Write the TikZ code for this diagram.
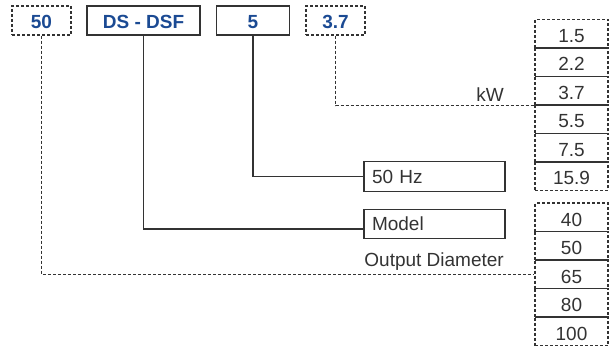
\documentclass[tikz,border=0pt]{standalone}
\usepackage{fontspec}
\setmainfont{Liberation Sans}
\definecolor{lab}{HTML}{1B4A93}
\definecolor{ln}{HTML}{333333}
\begin{document}
\begin{tikzpicture}[x=1pt,y=-1pt,
  font=\fontsize{19}{22}\selectfont,
  dsh/.style={dash pattern=on 3pt off 2pt},
  topbox/.style={draw=ln,line width=1.2pt,minimum height=29pt,inner sep=0pt,text=lab,text height=15.5pt,text depth=0pt,font=\fontsize{19}{22}\selectfont\bfseries},
  infobox/.style={draw=ln,line width=1.2pt,minimum height=29.5pt,minimum width=141pt,inner sep=0pt,text=ln,align=left,text width=125pt},
  cell/.style={draw=ln,line width=1.2pt,dsh,minimum width=73pt,minimum height=28.5pt,inner sep=0pt,text=ln,text height=17.5pt,text depth=0pt},
  conn/.style={draw=ln,line width=1.2pt},
  plain/.style={text=ln,inner sep=0pt}]
\useasboundingbox (0,0) rectangle (609,347);
% top boxes
\node[topbox,dsh,minimum width=59pt] (b50) at (41.5,20.5) {50};
\node[topbox,minimum width=113pt] (bds) at (143.5,20.5) {DS - DSF};
\node[topbox,minimum width=73pt] (b5) at (253,20.5) {5};
\node[topbox,dsh,minimum width=59pt] (b37) at (335.5,20.5) {3.7};
% right column group 1
\node[cell] (r15) at (571.5,33.75) {1.5};
\node[cell] (r22) at (571.5,62.25) {2.2};
\node[cell] (r37) at (571.5,90.75) {3.7};
\node[cell] (r55) at (571.5,119.25) {5.5};
\node[cell] (r75) at (571.5,147.75) {7.5};
\node[cell] (r159) at (571.5,176.25) {15.9};
% right column group 2
\node[cell] (r40) at (571.5,217.25) {40};
\node[cell] (r50) at (571.5,245.75) {50};
\node[cell] (r65) at (571.5,274.25) {65};
\node[cell] (r80) at (571.5,302.75) {80};
\node[cell] (r100) at (571.5,331.25) {100};
% info boxes
\node[infobox] (hz) at (434.5,176.5) {50 Hz};
\node[infobox] (model) at (434.5,224) {Model};
% labels
\node[plain,anchor=east] (kw) at (504,95) {kW};
\node[plain,anchor=east] (od) at (504,262) {Output Diameter};
% connectors
\draw[conn,dsh] (b37.south) |- (r37.south west);
\draw[conn] (b5.south) |- (hz.west);
\draw[conn] (bds.south) |- ([yshift=-5pt]model.west);
\draw[conn,dsh] (b50.south) |- (r65.west);
\end{tikzpicture}
\end{document}
